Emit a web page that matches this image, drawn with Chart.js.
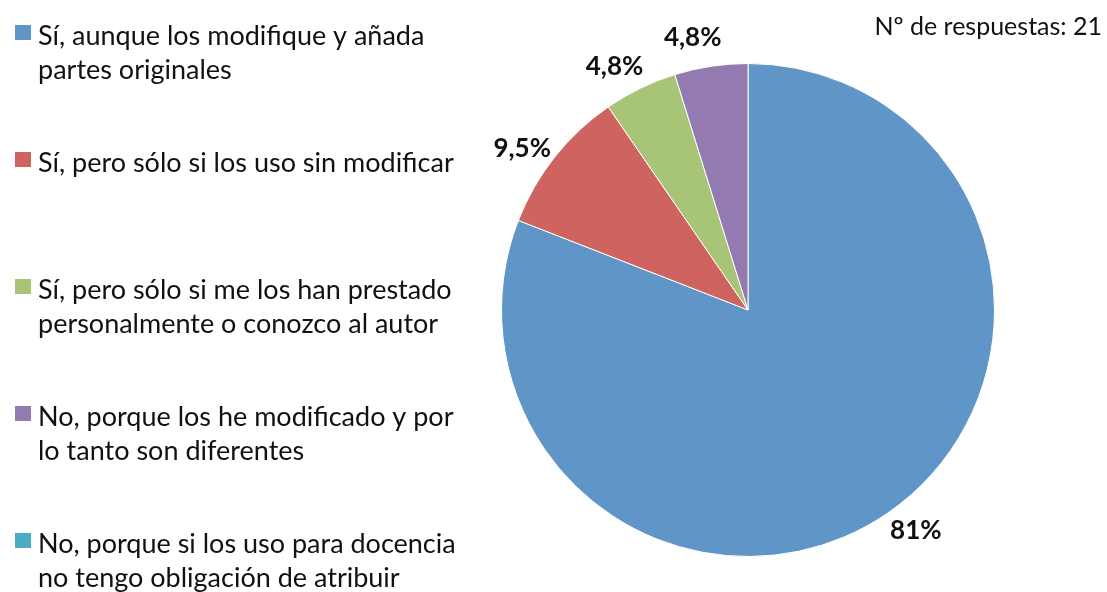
<!DOCTYPE html>
<html>
<head>
<meta charset="utf-8">
<script src="https://cdn.jsdelivr.net/npm/chart.js@4/dist/chart.umd.min.js"></script>
<style>
  html, body { margin: 0; padding: 0; background: #fff; }
  #wrap { position: relative; width: 1107px; height: 592px; }
</style>
</head>
<body>
<div id="wrap"><canvas id="pie"></canvas></div>
<script>
// Categories (already split into the lines shown in the legend)
const categories = [
    ['Sí, aunque los modifique y añada', 'partes originales'],
    ['Sí, pero sólo si los uso sin modificar'],
    ['Sí, pero sólo si me los han prestado', 'personalmente o conozco al autor'],
    ['No, porque los he modificado y por', 'lo tanto son diferentes'],
    ['No, porque si los uso para docencia', 'no tengo obligación de atribuir']
];
const percents = [81, 9.5, 4.8, 4.8, 0];
const colors = ['#6096C7', '#CF635F', '#A8C476', '#937AB0', '#4BACC6'];
const subtitle = 'Nº de respuestas: 21';

const FONT = 'Lato, "Open Sans", sans-serif';

function fmt(v) {
    return String(v).replace('.', ',') + '%';
}

// Legend on the left, drawn on the canvas
const sideLegend = {
    id: 'sideLegend',
    afterDraw(chart) {
        const ctx = chart.ctx;
        ctx.save();
        ctx.font = '27px ' + FONT;
        ctx.textBaseline = 'alphabetic';
        ctx.textAlign = 'left';
        categories.forEach((lines, i) => {
            const base = 45 + i * 127;
            ctx.fillStyle = colors[i];
            ctx.fillRect(15, base - 20, 16, 15);
            ctx.fillStyle = '#111';
            lines.forEach((ln, j) => ctx.fillText(ln, 38, base + j * 34));
        });

        // response count, top right
        ctx.font = '25px ' + FONT;
        ctx.textAlign = 'right';
        ctx.fillText(subtitle, 1102, 35);
        ctx.restore();
    }
};

// Percentage labels outside each slice
const outsideLabels = {
    id: 'outsideLabels',
    afterDatasetsDraw(chart) {
        const ctx = chart.ctx;
        const meta = chart.getDatasetMeta(0);
        ctx.save();
        ctx.font = 'bold 26px ' + FONT;
        ctx.fillStyle = '#111';
        ctx.textAlign = 'center';
        ctx.textBaseline = 'middle';
        meta.data.forEach((arc, i) => {
            const v = percents[i];
            if (!v) return;
            const mid = (arc.startAngle + arc.endAngle) / 2 - 0.05;
            const d = arc.outerRadius + 31;
            ctx.fillText(fmt(v), arc.x + Math.cos(mid) * d, arc.y + Math.sin(mid) * d);
        });
        ctx.restore();
    }
};

new Chart(document.getElementById('pie'), {
    type: 'pie',
    data: {
        labels: categories.map(l => l.join(' ')),
        datasets: [{
            data: percents,
            backgroundColor: colors,
            borderColor: '#ffffff',
            borderWidth: 1
        }]
    },
    options: {
        responsive: true,
        maintainAspectRatio: false,
        animation: false,
        layout: { padding: { top: 63, bottom: 35, left: 501, right: 112 } },
        plugins: {
            legend: { display: false },
            tooltip: { enabled: false }
        }
    },
    plugins: [sideLegend, outsideLabels]
});
</script>
</body>
</html>
